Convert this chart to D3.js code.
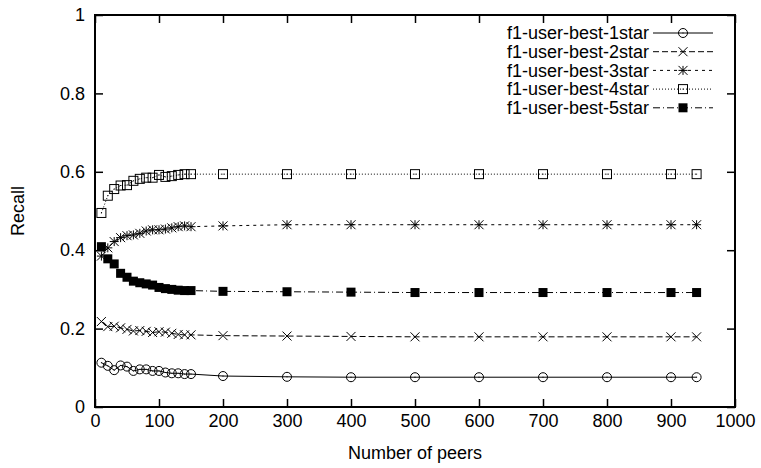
<!DOCTYPE html>
<html>
<head>
<meta charset="utf-8">
<script src="https://cdn.jsdelivr.net/npm/d3@7/dist/d3.min.js"></script>
<style>
  html, body { margin: 0; padding: 0; background: #fff; }
  svg { display: block; }
  text { font-family: "Liberation Sans", Arial, Helvetica, sans-serif; fill: #000; }
</style>
</head>
<body>
<svg id="chart" width="761" height="468"></svg>
<script>
// Number of peers on the x axis
const peers = [10, 20, 30, 40, 50, 60, 70, 80, 90, 100, 110, 120, 130, 140, 150,
               200, 300, 400, 500, 600, 700, 800, 900, 940];

// Recall per rating group
const recall1star = [0.113, 0.105, 0.094, 0.106, 0.103, 0.092, 0.096, 0.096, 0.092, 0.092, 0.088, 0.086, 0.086, 0.084, 0.084,
                     0.079, 0.077, 0.076, 0.076, 0.076, 0.076, 0.076, 0.076, 0.076];
const recall2star = [0.218, 0.205, 0.206, 0.202, 0.198, 0.194, 0.195, 0.193, 0.190, 0.192, 0.191, 0.188, 0.185, 0.184, 0.184,
                     0.182, 0.181, 0.180, 0.179, 0.179, 0.179, 0.179, 0.179, 0.179];
const recall3star = [0.385, 0.406, 0.422, 0.432, 0.437, 0.439, 0.443, 0.449, 0.452, 0.452, 0.454, 0.457, 0.460, 0.462, 0.460,
                     0.462, 0.465, 0.465, 0.465, 0.465, 0.465, 0.465, 0.465, 0.465];
const recall4star = [0.495, 0.539, 0.556, 0.565, 0.566, 0.577, 0.582, 0.585, 0.585, 0.592, 0.587, 0.589, 0.592, 0.594, 0.594,
                     0.594, 0.594, 0.594, 0.594, 0.594, 0.594, 0.594, 0.594, 0.594];
const recall5star = [0.409, 0.378, 0.365, 0.341, 0.331, 0.321, 0.317, 0.314, 0.311, 0.305, 0.302, 0.300, 0.298, 0.297, 0.297,
                     0.295, 0.294, 0.293, 0.292, 0.292, 0.292, 0.292, 0.292, 0.292];

const seriesNames = ["f1-user-best-1star", "f1-user-best-2star", "f1-user-best-3star",
                     "f1-user-best-4star", "f1-user-best-5star"];
const seriesValues = [recall1star, recall2star, recall3star, recall4star, recall5star];

const xTicks = [0, 100, 200, 300, 400, 500, 600, 700, 800, 900, 1000];
const yTicks = [0, 0.2, 0.4, 0.6, 0.8, 1];

const xLabel = "Number of peers";
const yLabel = "Recall";

// Line and marker style per series
const styles = [
  { dash: null,        marker: "circle" },
  { dash: "6,3",       marker: "cross" },
  { dash: "3,4",       marker: "star" },
  { dash: "1,2",       marker: "square" },
  { dash: "7,3,1,3",   marker: "filled" }
];

const svg = d3.select("#chart");
const W = 761, H = 468;
const m = { left: 95, right: 26, top: 15, bottom: 61 };

svg.append("rect").attr("width", W).attr("height", H).attr("fill", "#fff");

const x = d3.scaleLinear().domain([0, 1000]).range([m.left, W - m.right]);
const y = d3.scaleLinear().domain([0, 1]).range([H - m.bottom, m.top]);

const fs = 18;
const tickLen = 8;

// Axes with inward ticks, mirrored on the opposite sides
const gx = svg.append("g").attr("transform", `translate(0,${y(0)})`)
  .call(d3.axisBottom(x).tickValues(xTicks).tickFormat(d3.format("d")).tickSizeInner(-tickLen).tickSizeOuter(0).tickPadding(7));
const gxTop = svg.append("g").attr("transform", `translate(0,${y(1)})`)
  .call(d3.axisTop(x).tickValues(xTicks).tickFormat("").tickSizeInner(-tickLen).tickSizeOuter(0));
const gy = svg.append("g").attr("transform", `translate(${x(0)},0)`)
  .call(d3.axisLeft(y).tickValues(yTicks).tickFormat(d => d === 0 || d === 1 ? d3.format("d")(d) : d3.format(".1f")(d)).tickSizeInner(-tickLen).tickSizeOuter(0).tickPadding(10));
const gyRight = svg.append("g").attr("transform", `translate(${x(1000)},0)`)
  .call(d3.axisRight(y).tickValues(yTicks).tickFormat("").tickSizeInner(-tickLen).tickSizeOuter(0));

[gx, gxTop, gy, gyRight].forEach(g => {
  g.select(".domain").remove();
  g.selectAll(".tick line").attr("stroke", "#000").attr("stroke-width", 1.5);
  g.selectAll(".tick text").style("font-size", fs + "px").attr("fill", "#000")
    .style("font-family", "'Liberation Sans', Arial, sans-serif");
});
gx.selectAll(".tick text").attr("dy", "0.71em");

// Plot frame
svg.append("rect")
  .attr("x", x(0)).attr("y", y(1))
  .attr("width", x(1000) - x(0)).attr("height", y(0) - y(1))
  .attr("fill", "none").attr("stroke", "#000").attr("stroke-width", 2);

// Axis titles
svg.append("text")
  .attr("x", (x(0) + x(1000)) / 2).attr("y", 459)
  .attr("text-anchor", "middle").style("font-size", fs + "px")
  .text(xLabel);
svg.append("text")
  .attr("transform", `translate(24,${(y(0) + y(1)) / 2}) rotate(-90)`)
  .attr("text-anchor", "middle").style("font-size", fs + "px")
  .text(yLabel);

// Marker drawing
const R = 4.5;
function drawMarker(g, type, cx, cy) {
  const col = "#000";
  if (type === "circle") {
    g.append("circle").attr("cx", cx).attr("cy", cy).attr("r", R)
      .attr("fill", "none").attr("stroke", col).attr("stroke-width", 1);
    g.append("rect").attr("x", cx - 0.5).attr("y", cy - 0.5).attr("width", 1).attr("height", 1).attr("fill", col);
  } else if (type === "cross") {
    g.append("path")
      .attr("d", `M${cx - R},${cy - R}L${cx + R},${cy + R}M${cx - R},${cy + R}L${cx + R},${cy - R}`)
      .attr("stroke", col).attr("stroke-width", 1).attr("fill", "none");
  } else if (type === "star") {
    g.append("path")
      .attr("d", `M${cx - R},${cy - R}L${cx + R},${cy + R}M${cx - R},${cy + R}L${cx + R},${cy - R}` +
                 `M${cx},${cy - R}L${cx},${cy + R}M${cx - R},${cy}L${cx + R},${cy}`)
      .attr("stroke", col).attr("stroke-width", 1).attr("fill", "none");
  } else if (type === "square") {
    g.append("rect").attr("x", cx - R).attr("y", cy - R).attr("width", 2 * R).attr("height", 2 * R)
      .attr("fill", "none").attr("stroke", col).attr("stroke-width", 1);
    g.append("rect").attr("x", cx - 0.5).attr("y", cy - 0.5).attr("width", 1).attr("height", 1).attr("fill", col);
  } else if (type === "filled") {
    g.append("rect").attr("x", cx - R).attr("y", cy - R).attr("width", 2 * R).attr("height", 2 * R)
      .attr("fill", col);
  }
}

const line = d3.line().x(d => x(d[0])).y(d => y(d[1]));

seriesValues.forEach((vals, i) => {
  const pts = peers.map((p, k) => [p, vals[k]]);
  const g = svg.append("g");
  g.append("path").attr("d", line(pts))
    .attr("fill", "none").attr("stroke", "#000").attr("stroke-width", 1)
    .attr("stroke-dasharray", styles[i].dash);
  pts.forEach(p => drawMarker(g, styles[i].marker, x(p[0]), y(p[1])));
});

// Legend
const legendTextX = 649, sampleX0 = 653, sampleX1 = 713, legendY0 = 33, legendDy = 18.7;
seriesNames.forEach((name, i) => {
  const ly = legendY0 + i * legendDy;
  const g = svg.append("g");
  g.append("text").attr("x", legendTextX).attr("y", ly).attr("dy", "0.35em")
    .attr("text-anchor", "end").style("font-size", fs + "px").text(name);
  g.append("line").attr("x1", sampleX0).attr("x2", sampleX1).attr("y1", ly).attr("y2", ly)
    .attr("stroke", "#000").attr("stroke-width", 1).attr("stroke-dasharray", styles[i].dash);
  drawMarker(g, styles[i].marker, (sampleX0 + sampleX1) / 2, ly);
});
</script>
</body>
</html>
